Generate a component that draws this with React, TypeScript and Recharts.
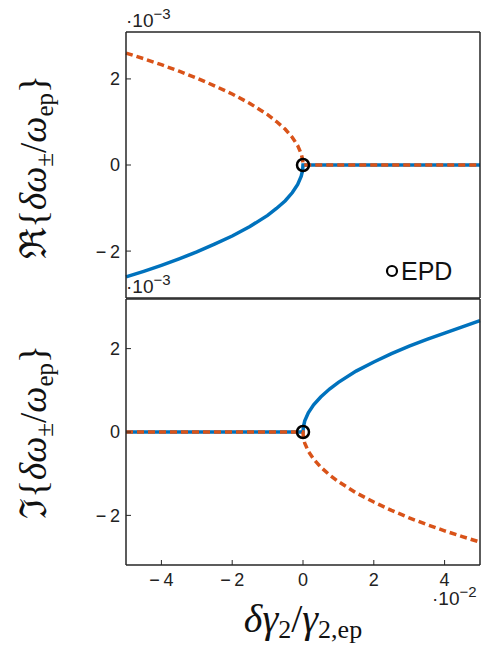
import React from 'react';
import { LineChart, Line, XAxis, YAxis, ReferenceDot } from 'recharts';

// x positions (units of 1e-2) for the split branch
const xNeg = [-5, -4.5, -4, -3.5, -3, -2.5, -2, -1.5, -1, -0.75, -0.5, -0.3, -0.15, -0.05, -0.01, 0];
// real part, upper branch (orange dashed) and lower branch (blue), units of 1e-3
const reUpper = [2.6, 2.47, 2.33, 2.18, 2.02, 1.84, 1.65, 1.43, 1.17, 1.01, 0.83, 0.64, 0.45, 0.26, 0.12, 0];
const reLower = [-2.6, -2.47, -2.33, -2.18, -2.02, -1.84, -1.65, -1.43, -1.17, -1.01, -0.83, -0.64, -0.45, -0.26, -0.12, 0];

const xPos = [0, 0.01, 0.05, 0.15, 0.3, 0.5, 0.75, 1, 1.5, 2, 2.5, 3, 3.5, 4, 4.5, 5];
// imaginary part, upper (blue) and lower (orange dashed)
const imUpper = [0, 0.12, 0.27, 0.46, 0.65, 0.84, 1.03, 1.19, 1.46, 1.68, 1.88, 2.06, 2.22, 2.37, 2.52, 2.67];
const imLower = [0, -0.12, -0.27, -0.46, -0.65, -0.84, -1.03, -1.19, -1.46, -1.68, -1.88, -2.06, -2.22, -2.37, -2.51, -2.64];

const xTicks = [-4, -2, 0, 2, 4];
const yTicks = [-2, 0, 2];

const BLUE = '#0072BD';
const ORANGE = '#D95319';
const AXIS = '#262626';

const topData = [
  ...xNeg.map((x, i) => ({ x, blue: reLower[i], orange: reUpper[i] })),
  { x: 5, blue: 0, orange: 0 },
];
const bottomData = [
  { x: -5, blue: 0, orange: 0 },
  ...xPos.map((x, i) => ({ x, blue: imUpper[i], orange: imLower[i] })),
];

const serif = 'Liberation Serif, DejaVu Serif, serif';
const sans = 'Liberation Sans, Arial, sans-serif';
const fmt = (v: number) => String(v).replace('-', '\u2212\u2009');

// tick labels drawn by hand so the font size sticks
const XTick = (props: any) => (
  <text x={props.x} y={props.y} dy="0.72em" textAnchor="middle" fontFamily={sans} fontSize={18} fill="#222">
    {fmt(props.payload.value)}
  </text>
);
const YTick = (props: any) => (
  <text x={props.x} y={props.y} dy="0.36em" textAnchor="end" fontFamily={sans} fontSize={18} fill="#222">
    {fmt(props.payload.value)}
  </text>
);

type PanelProps = {
  data: { x: number; blue: number; orange: number }[];
  yDomain: [number, number];
  top: number;
  height: number;
  margin: { top: number; right: number; bottom: number; left: number };
  xLabels: boolean;
};

const Panel = ({ data, yDomain, top, height, margin, xLabels }: PanelProps) => (
  <LineChart
    width={481}
    height={height}
    data={data}
    margin={margin}
    style={{ position: 'absolute', left: 0, top }}
  >
    <XAxis
      dataKey="x"
      type="number"
      domain={[-5, 5]}
      ticks={xTicks}
      height={1}
      axisLine={{ stroke: AXIS, strokeWidth: 1.5 }}
      tickLine={xLabels ? { stroke: AXIS } : false}
      tickSize={-5}
      tickMargin={13}
      tick={xLabels ? XTick : false}
    />
    <XAxis
      xAxisId="t"
      orientation="top"
      type="number"
      domain={[-5, 5]}
      ticks={xTicks}
      height={1}
      axisLine={{ stroke: AXIS, strokeWidth: 1.5 }}
      tickLine={xLabels ? { stroke: AXIS } : false}
      tickSize={-5}
      tick={false}
    />
    <YAxis
      type="number"
      domain={yDomain}
      ticks={yTicks}
      width={1}
      axisLine={{ stroke: AXIS, strokeWidth: 1.5 }}
      tickLine={{ stroke: AXIS }}
      tickSize={-5}
      tickMargin={11}
      tick={YTick}
    />
    <YAxis
      yAxisId="r"
      orientation="right"
      type="number"
      domain={yDomain}
      ticks={yTicks}
      width={1}
      axisLine={{ stroke: AXIS, strokeWidth: 1.5 }}
      tickLine={{ stroke: AXIS }}
      tickSize={-5}
      tick={false}
    />
    <Line type="linear" dataKey="blue" stroke={BLUE} strokeWidth={3.5} dot={false} isAnimationActive={false} />
    <Line
      type="linear"
      dataKey="orange"
      stroke={ORANGE}
      strokeWidth={3.5}
      strokeDasharray="7 4"
      dot={false}
      isAnimationActive={false}
    />
    <ReferenceDot x={0} y={0} r={6} fill="none" stroke="#000" strokeWidth={2.5} />
  </LineChart>
);

const YLabel = ({ x, y, sym }: { x: number; y: number; sym: string }) => (
  <text transform={`translate(${x},${y}) rotate(-90)`} textAnchor="middle" fontFamily={serif} fontSize={37} fill="#111">
    {sym}
    {'{'}
    <tspan fontStyle="italic">δω</tspan>
    <tspan fontSize={25} dy={7}>±</tspan>
    <tspan dy={-7}>/</tspan>
    <tspan fontStyle="italic">ω</tspan>
    <tspan fontSize={25} dy={7}>ep</tspan>
    <tspan dy={-7}>{'}'}</tspan>
  </text>
);

const Exponent = ({ x, y, p }: { x: number; y: number; p: string }) => (
  <text x={x} y={y} fontFamily={sans} fontSize={19} fill="#222">
    ·10
    <tspan fontSize={15} dy={-8}>{p}</tspan>
  </text>
);

export default function App() {
  return (
    <div style={{ position: 'absolute', left: 0, top: 0, width: 481, height: 645, background: '#fff' }}>
      <Panel
        data={topData}
        yDomain={[-3.09, 3.09]}
        top={0}
        height={300}
        margin={{ top: 31, right: 0, bottom: 1, left: 125 }}
        xLabels={false}
      />
      <Panel
        data={bottomData}
        yDomain={[-3.19, 3.19]}
        top={280}
        height={365}
        margin={{ top: 18, right: 0, bottom: 79, left: 125 }}
        xLabels={true}
      />
      <svg
        width={481}
        height={645}
        style={{ position: 'absolute', left: 0, top: 0, pointerEvents: 'none' }}
      >
        <YLabel x={46} y={167} sym="ℜ" />
        <YLabel x={46} y={432} sym="ℑ" />
        <Exponent x={126} y={27} p="−3" />
        <Exponent x={126} y={293} p="−3" />
        <Exponent x={432} y={605} p="−2" />
        <circle cx={392} cy={271} r={5} fill="none" stroke="#000" strokeWidth={2.2} />
        <text x={401} y={280} fontFamily={sans} fontSize={25} fill="#111">EPD</text>
        <text x={303} y={632} textAnchor="middle" fontFamily={serif} fontSize={40} fill="#111">
          <tspan fontStyle="italic">δγ</tspan>
          <tspan fontSize={26} dy={6}>2</tspan>
          <tspan dy={-6}>/</tspan>
          <tspan fontStyle="italic">γ</tspan>
          <tspan fontSize={26} dy={6}>2,ep</tspan>
        </text>
      </svg>
    </div>
  );
}
